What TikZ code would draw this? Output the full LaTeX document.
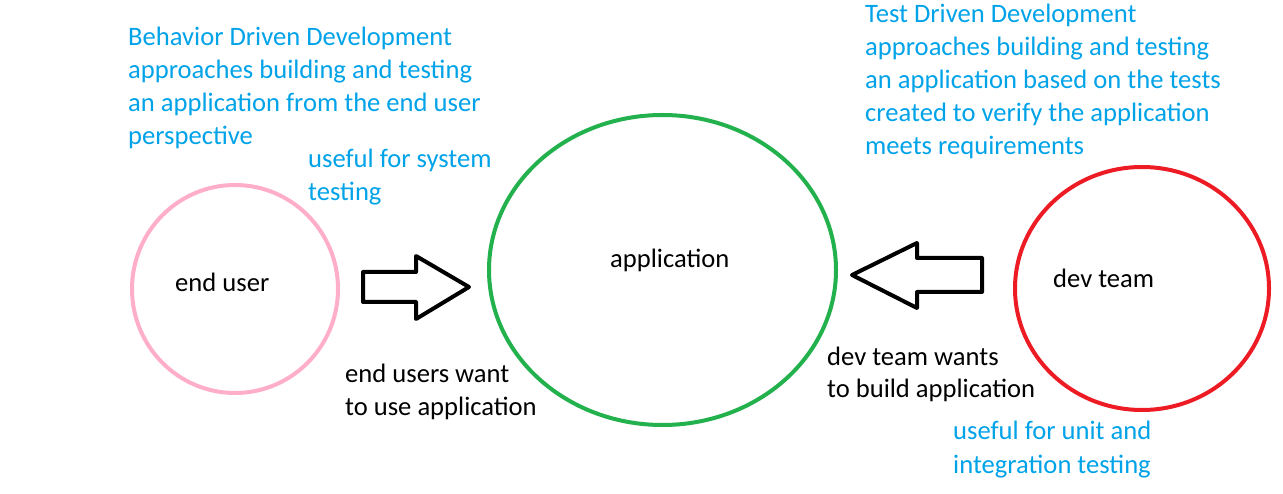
\documentclass[tikz,border=0pt]{standalone}
\usepackage{fontspec}
\setmainfont{Carlito}
\usetikzlibrary{shapes.geometric}
\definecolor{bluetxt}{HTML}{00A2E8}
\definecolor{pinkc}{HTML}{FFAEC9}
\definecolor{greenc}{HTML}{22B14C}
\definecolor{redc}{HTML}{ED1C24}
\tikzset{
  circ/.style={ellipse, line width=4pt, inner sep=0pt},
  lbl/.style={inner sep=0pt, anchor=base west, font=\fontsize{26.6}{33}\selectfont},
  note/.style={lbl, text=bluetxt, align=left},
  txt/.style={lbl, text=black, align=left},
  blockarrow/.style={draw=black, line width=4pt, line join=round, fill=white}
}
\begin{document}
\begin{tikzpicture}[x=1pt,y=-1pt]
\useasboundingbox (0,0) rectangle (1283,494);
% circles
\node[circ, draw=pinkc, minimum width=206pt, minimum height=208pt] (user) at (235,289) {};
\node[circ, draw=greenc, minimum width=347pt, minimum height=310pt] (app) at (662.5,270) {};
\node[circ, draw=redc, minimum width=254pt, minimum height=243pt] (dev) at (1142,288.5) {};
% labels in circles
\node[txt] (userlbl) at (175,292) {end user};
\node[txt] (applbl) at (610,268) {application};
\node[txt] (devlbl) at (1053,288) {dev team};
% block arrows
\coordinate (ra1) at (363,272);
\coordinate (ra2) at (416,272);
\coordinate (ra3) at (416,256);
\coordinate (ratip) at (469,287);
\coordinate (ra5) at (416,319);
\coordinate (ra6) at (416,302);
\coordinate (ra7) at (363,302);
\draw[blockarrow] (ra1) -- (ra2) -- (ra3) -- (ratip) -- (ra5) -- (ra6) -- (ra7) -- cycle;
\coordinate (la1) at (982,258);
\coordinate (la2) at (917,258);
\coordinate (la3) at (917,243);
\coordinate (latip) at (852,275);
\coordinate (la5) at (917,308);
\coordinate (la6) at (917,292);
\coordinate (la7) at (982,292);
\draw[blockarrow] (la1) -- (la2) -- (la3) -- (latip) -- (la5) -- (la6) -- (la7) -- cycle;
% black texts
\node[txt] (usertxt1) at (345,382) {end users want};
\node[txt] (usertxt2) at (345,415) {to use application};
\node[txt] (devtxt1) at (827,366) {dev team wants};
\node[txt] (devtxt2) at (827,398) {to build application};
% blue notes
\node[note] (bdd1) at (128,46) {Behavior Driven Development};
\node[note] (bdd2) at (128,79) {approaches building and testing};
\node[note] (bdd3) at (128,112) {an application from the end user};
\node[note] (bdd4) at (128,145) {perspective};
\node[note] (sys1) at (308,168) {useful for system};
\node[note] (sys2) at (308,201) {testing};
\node[note] (tdd1) at (865,23) {Test Driven Development};
\node[note] (tdd2) at (865,56) {approaches building and testing};
\node[note] (tdd3) at (865,89) {an application based on the tests};
\node[note] (tdd4) at (865,122) {created to verify the application};
\node[note] (tdd5) at (865,155) {meets requirements};
\node[note] (unit1) at (953,439) {useful for unit and};
\node[note] (unit2) at (953,473) {integration testing};
\end{tikzpicture}
\end{document}
